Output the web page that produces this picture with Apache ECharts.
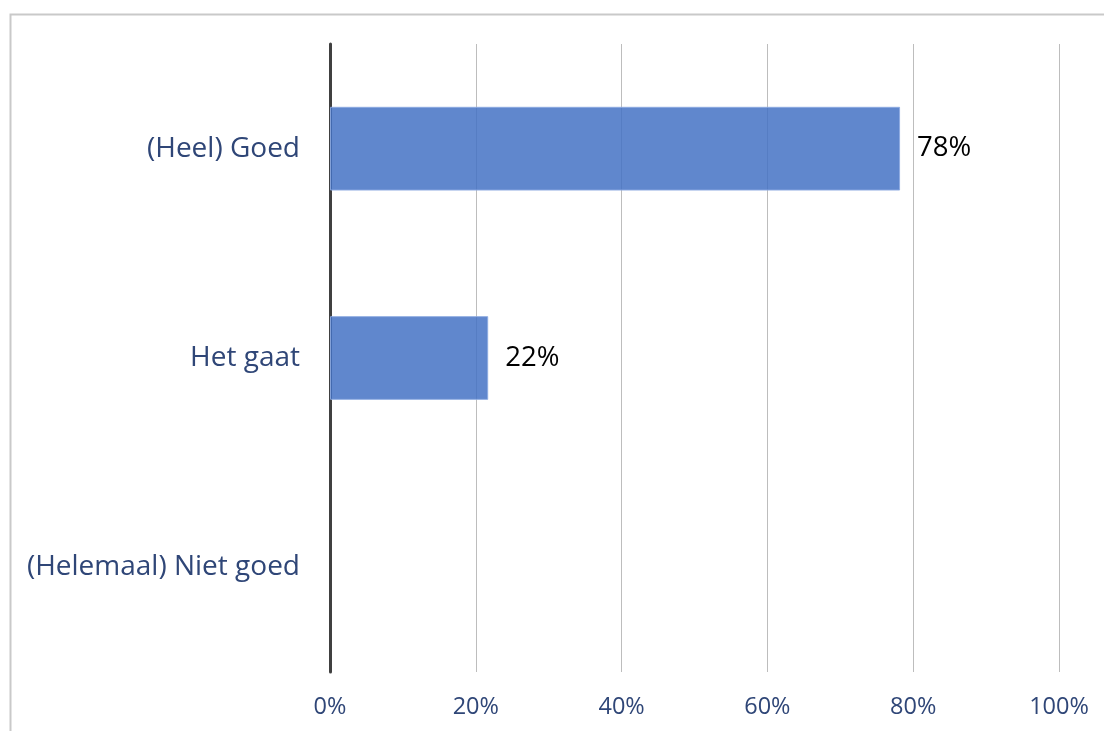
<!DOCTYPE html>
<html>
<head>
<meta charset="utf-8">
<script src="https://cdn.jsdelivr.net/npm/echarts@6/dist/echarts.min.js"></script>
<style>
html,body{margin:0;padding:0;background:#fff;}
#chart{width:1104px;height:731px;}
</style>
</head>
<body>
<div id="chart"></div>
<script>
const categories = ['(Heel) Goed', 'Het gaat', '(Helemaal) Niet goed'];
const values = [78.2, 21.7, null];
const xTicks = [0, 20, 40, 60, 80, 100];

const chart = echarts.init(document.getElementById('chart'), null, {renderer: 'canvas'});
const font = '"Open Sans", "Noto Sans", sans-serif';
chart.setOption({
  backgroundColor: '#ffffff',
  animation: false,
  graphic: [{
    type: 'rect',
    shape: {x: 10.5, y: 14.5, width: 1200, height: 800},
    style: {fill: 'none', stroke: '#c9c9c9', lineWidth: 2},
    silent: true, z: -10
  }],
  grid: {left: 330, right: 45, top: 44, bottom: 59, containLabel: false},
  xAxis: {
    type: 'value', min: xTicks[0], max: xTicks[xTicks.length - 1], interval: 20,
    axisLine: {show: false}, axisTick: {show: false},
    splitLine: {show: true, lineStyle: {color: '#bdbdbd', width: 1}},
    axisLabel: {formatter: v => v + '%', color: '#2f4677', fontSize: 23.5, fontFamily: font, margin: 23}
  },
  yAxis: {
    type: 'category', data: categories, inverse: true,
    axisLine: {show: true, lineStyle: {color: '#404040', width: 3}},
    axisTick: {show: false},
    axisLabel: {color: '#2f4677', fontSize: 28, fontFamily: font, margin: 30, padding: [3, 0, 0, 0]}
  },
  series: [{
    type: 'bar', data: values, barWidth: '40%',
    itemStyle: {color: 'rgba(68,114,196,0.85)', borderColor: 'rgba(140,170,225,0.9)', borderWidth: 1},
    label: {show: true, position: 'right', distance: 17, color: '#000', fontSize: 27.5, fontFamily: font,
      padding: [3, 0, 0, 0],
      formatter: p => p.value == null ? '' : Math.round(p.value) + '%'},
    z: 1
  }]
});
</script>
</body>
</html>
